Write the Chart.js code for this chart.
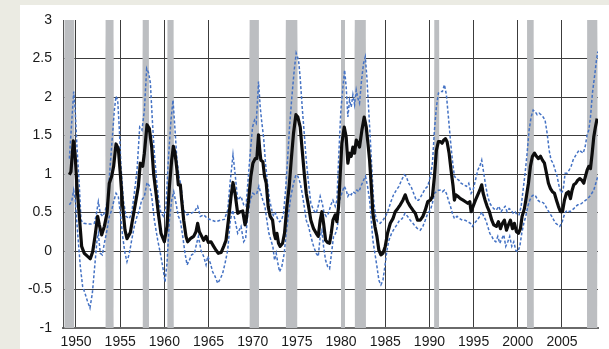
<!DOCTYPE html>
<html>
<head>
<meta charset="utf-8">
<script src="https://cdn.jsdelivr.net/npm/chart.js@4/dist/chart.umd.min.js"></script>
<style>
html,body{margin:0;padding:0;background:#ebebe3;overflow:hidden;}
#wrap{position:absolute;left:0;top:0;width:609px;height:349px;}
canvas{display:block;}
</style>
</head>
<body>
<div id="wrap"><canvas id="c" width="609" height="349"></canvas></div>
<script>
// ---- tick labels ----
const xTickYears = [1950, 1955, 1960, 1965, 1970, 1975, 1980, 1985, 1990, 1995, 2000, 2005];
const yTickValues = [-1, -0.5, 0, 0.5, 1, 1.5, 2, 2.5, 3];

// ---- recession periods (years) ----
const recessionStarts = [1948.6, 1953.25, 1957.45, 1960.25, 1969.55, 1973.65, 1979.9, 1981.45, 1990.45, 2000.95, 2007.75];
const recessionEnds   = [1949.9, 1954.35, 1958.35, 1961.15, 1970.8, 1975.15, 1980.55, 1982.9, 1991.2, 2001.9, 2009.1];

// ---- central estimate [year, value] ----
const centerLine = [
[1949.25,0.99],[1949.43,1.03],[1949.7,1.43],[1949.89,1.27],[1950.11,0.84],[1950.38,0.45],[1950.64,0.06],[1950.94,-0.03],
[1951.32,-0.07],[1951.62,-0.10],[1951.89,-0.01],[1952.15,0.19],[1952.45,0.45],[1952.64,0.34],[1952.91,0.21],[1953.21,0.32],
[1953.51,0.49],[1953.77,0.88],[1954.04,0.97],[1954.26,1.10],[1954.53,1.39],[1954.79,1.33],[1955.02,1.0],[1955.28,0.58],
[1955.55,0.27],[1955.77,0.16],[1956.15,0.24],[1956.42,0.42],[1956.79,0.66],[1957.06,0.84],[1957.28,1.14],[1957.55,1.10],
[1957.74,1.27],[1958.04,1.64],[1958.3,1.59],[1958.57,1.35],[1958.79,1.0],[1959.06,0.75],[1959.32,0.49],[1959.62,0.23],
[1960.0,0.12],[1960.3,0.32],[1960.57,0.84],[1960.83,1.18],[1961.02,1.36],[1961.21,1.27],[1961.43,1.05],[1961.58,0.86],
[1961.81,0.86],[1961.96,0.66],[1962.19,0.40],[1962.45,0.19],[1962.64,0.12],[1962.94,0.16],[1963.32,0.19],[1963.58,0.25],
[1963.77,0.36],[1963.96,0.25],[1964.23,0.19],[1964.45,0.14],[1964.72,0.19],[1964.98,0.11],[1965.28,0.12],[1965.58,0.06],
[1965.85,0.01],[1966.11,-0.03],[1966.42,-0.02],[1966.72,0.06],[1966.98,0.14],[1967.25,0.40],[1967.55,0.71],[1967.77,0.89],
[1968.0,0.75],[1968.3,0.49],[1968.6,0.51],[1968.87,0.52],[1969.13,0.34],[1969.26,0.40],
[1969.53,0.66],[1969.79,0.97],[1970.02,1.14],[1970.28,1.20],[1970.47,1.20],[1970.66,1.51],[1970.77,1.35],[1970.92,1.18],
[1971.15,1.16],[1971.34,0.97],[1971.53,0.88],[1971.75,0.58],[1971.98,0.45],[1972.25,0.40],[1972.43,0.23],[1972.58,0.16],
[1972.74,0.23],[1972.92,0.10],[1973.11,0.06],[1973.38,0.10],[1973.6,0.23],[1973.87,0.58],[1974.13,0.84],[1974.36,1.18],
[1974.62,1.53],[1974.89,1.77],[1975.11,1.74],[1975.38,1.61],[1975.6,1.31],[1975.83,1.01],[1976.06,0.75],[1976.32,0.58],
[1976.58,0.40],[1976.89,0.29],[1977.19,0.23],[1977.42,0.19],[1977.64,0.40],[1977.83,0.51],[1978.02,0.36],[1978.25,0.14],
[1978.47,0.11],[1978.7,0.10],[1978.89,0.23],[1979.08,0.40],[1979.34,0.47],[1979.53,0.38],[1979.72,0.58],[1979.91,1.01],
[1980.09,1.40],[1980.36,1.61],[1980.58,1.48],[1980.77,1.14],[1980.96,1.27],[1981.15,1.23],[1981.34,1.35],[1981.53,1.27],
[1981.72,1.44],[1981.91,1.40],[1982.09,1.35],[1982.36,1.57],[1982.62,1.74],[1982.85,1.61],[1983.04,1.40],[1983.23,1.18],
[1983.42,0.84],[1983.6,0.49],[1983.83,0.32],[1984.06,0.19],[1984.28,0.01],[1984.51,-0.05],[1984.74,-0.03],[1985.0,0.06],
[1985.26,0.23],[1985.57,0.36],[1985.87,0.42],[1986.13,0.51],[1986.4,0.55],[1986.7,0.60],[1987.0,0.66],[1987.26,0.73],
[1987.53,0.64],[1987.83,0.58],[1988.13,0.53],[1988.4,0.49],[1988.66,0.40],[1988.96,0.40],[1989.26,0.45],[1989.53,0.53],
[1989.81,0.64],[1990.11,0.66],[1990.34,0.71],[1990.57,0.97],[1990.79,1.31],[1991.02,1.42],[1991.25,1.42],[1991.43,1.40],
[1991.62,1.44],[1991.81,1.46],[1992.0,1.42],[1992.23,1.27],[1992.45,1.05],[1992.68,0.84],[1992.83,0.66],[1992.98,0.73],
[1993.21,0.71],[1993.51,0.68],[1993.81,0.66],[1994.08,0.64],[1994.34,0.62],[1994.57,0.64],[1994.72,0.51],[1994.94,0.58],
[1995.21,0.66],[1995.47,0.73],[1995.7,0.79],[1995.92,0.86],[1996.08,0.75],[1996.3,0.66],[1996.53,0.58],[1996.79,0.51],
[1997.06,0.40],[1997.28,0.34],[1997.58,0.32],[1997.81,0.38],[1998.04,0.29],[1998.26,0.36],[1998.49,0.40],[1998.72,0.27],
[1998.94,0.34],[1999.17,0.40],[1999.4,0.29],[1999.62,0.36],[1999.85,0.25],[2000.08,0.23],[2000.3,0.29],[2000.49,0.45],
[2000.75,0.55],[2000.98,0.71],[2001.21,0.88],[2001.43,1.10],[2001.66,1.23],[2001.89,1.27],[2002.11,1.23],[2002.34,1.20],
[2002.57,1.23],[2002.79,1.18],[2003.02,1.14],[2003.25,1.01],[2003.47,0.88],[2003.7,0.81],[2003.92,0.77],[2004.15,0.75],
[2004.38,0.66],[2004.6,0.58],[2004.83,0.51],[2005.06,0.51],[2005.28,0.66],[2005.51,0.75],[2005.74,0.77],[2005.96,0.68],
[2006.15,0.79],[2006.34,0.86],[2006.57,0.88],[2006.79,0.92],[2007.02,0.94],[2007.25,0.92],[2007.47,0.88],[2007.66,0.97],
[2007.85,1.05],[2008.04,1.10],[2008.23,1.07],[2008.42,1.27],[2008.6,1.48],[2008.79,1.61],[2008.98,1.72]
];

// ---- upper band [year, value] ----
const upperBand = [
[1949.25,1.20],[1949.74,2.07],[1949.89,1.87],[1950.11,1.35],[1950.38,0.84],[1950.57,0.40],[1950.87,0.36],[1951.32,0.35],
[1951.7,0.35],[1952.08,0.36],[1952.26,0.45],[1952.53,0.64],[1952.75,0.49],[1953.02,0.45],[1953.28,0.51],[1953.58,0.66],
[1953.89,1.14],[1954.15,1.53],[1954.34,1.83],[1954.53,2.01],[1954.72,1.96],[1954.91,1.57],[1955.09,1.10],[1955.36,0.66],
[1955.66,0.45],[1956.04,0.42],[1956.3,0.49],[1956.6,0.75],[1956.91,1.05],[1957.21,1.61],[1957.47,1.57],[1957.74,1.83],
[1958.0,2.37],[1958.23,2.31],[1958.42,2.18],[1958.64,1.70],[1958.87,1.27],[1959.13,0.92],[1959.36,0.66],[1959.62,0.49],
[1959.92,0.45],[1960.19,0.58],[1960.45,1.18],[1960.75,1.70],[1960.98,1.96],[1961.21,1.57],[1961.43,1.18],[1961.66,0.97],
[1961.89,0.84],[1962.19,0.53],[1962.57,0.47],[1963.02,0.49],[1963.4,0.51],[1963.77,0.58],[1964.08,0.45],[1964.45,0.47],
[1964.91,0.42],[1965.36,0.40],[1965.85,0.38],[1966.34,0.40],[1966.79,0.41],[1967.17,0.53],[1967.47,0.92],[1967.77,1.25],
[1968.0,1.01],[1968.3,0.66],[1968.68,0.71],[1968.98,0.60],[1969.25,0.58],
[1969.42,0.84],[1969.72,1.27],[1969.98,1.61],[1970.21,1.70],[1970.4,1.66],[1970.66,2.20],[1970.85,1.87],[1971.04,1.66],
[1971.23,1.48],[1971.45,1.14],[1971.68,0.88],[1971.91,0.66],[1972.17,0.53],[1972.36,0.45],[1972.58,0.49],[1972.81,0.42],
[1973.04,0.38],[1973.26,0.40],[1973.49,0.49],[1973.72,0.79],[1973.94,1.18],[1974.17,1.61],[1974.43,2.00],[1974.7,2.35],
[1974.92,2.57],[1975.19,2.48],[1975.38,2.24],[1975.6,1.87],[1975.83,1.53],[1976.06,1.18],[1976.32,0.88],[1976.58,0.62],
[1976.89,0.53],[1977.19,0.49],[1977.45,0.60],[1977.64,0.71],[1977.87,0.62],[1978.09,0.49],[1978.32,0.45],[1978.58,0.49],
[1978.85,0.60],[1979.08,0.66],[1979.34,0.58],[1979.53,0.66],[1979.75,1.27],[1979.98,1.83],[1980.21,2.13],[1980.4,2.35],
[1980.58,2.13],[1980.77,1.74],[1980.96,1.96],[1981.15,1.87],[1981.34,2.03],[1981.53,1.90],[1981.72,2.09],[1981.91,1.98],
[1982.09,1.92],[1982.32,2.22],[1982.55,2.44],[1982.74,2.52],[1982.92,2.26],[1983.11,1.87],[1983.3,1.48],[1983.49,1.05],
[1983.68,0.66],[1983.91,0.45],[1984.13,0.38],[1984.43,0.36],[1984.74,0.40],[1985.04,0.45],[1985.34,0.53],[1985.64,0.64],
[1985.94,0.73],[1986.25,0.79],[1986.55,0.84],[1986.85,0.92],[1987.15,0.99],[1987.38,0.97],[1987.64,0.88],[1987.91,0.84],
[1988.21,0.75],[1988.51,0.66],[1988.77,0.66],[1989.04,0.71],[1989.34,0.77],[1989.53,0.81],
[1989.81,0.84],[1990.11,0.97],[1990.34,1.14],[1990.57,1.57],[1990.79,1.87],[1991.02,2.05],[1991.25,2.07],[1991.47,2.07],
[1991.7,2.16],[1991.92,2.03],[1992.15,1.74],[1992.38,1.44],[1992.6,1.18],[1992.83,0.97],[1993.06,0.94],[1993.32,0.92],
[1993.58,0.88],[1993.89,0.86],[1994.19,0.84],[1994.45,0.88],[1994.72,0.75],[1994.94,0.79],[1995.21,0.92],[1995.47,1.05],
[1995.7,1.10],[1995.92,1.18],[1996.15,1.01],[1996.38,0.84],[1996.6,0.71],[1996.83,0.62],[1997.06,0.58],[1997.28,0.55],
[1997.58,0.53],[1997.85,0.58],[1998.11,0.51],[1998.34,0.55],[1998.57,0.58],[1998.79,0.51],[1999.02,0.55],[1999.25,0.53],
[1999.47,0.49],[1999.7,0.51],[1999.92,0.47],[2000.15,0.47],[2000.38,0.58],[2000.6,0.79],[2000.83,1.01],[2001.06,1.27],
[2001.28,1.57],[2001.51,1.74],[2001.74,1.83],[2001.96,1.81],[2002.19,1.77],[2002.42,1.79],[2002.64,1.77],[2002.87,1.74],
[2003.09,1.70],[2003.32,1.53],[2003.55,1.31],[2003.77,1.18],[2004.0,1.14],[2004.23,1.05],[2004.45,0.97],[2004.68,0.84],
[2004.91,0.75],[2005.13,0.79],[2005.36,1.01],[2005.58,1.01],[2005.81,1.05],[2006.04,1.10],[2006.26,1.18],[2006.49,1.23],
[2006.72,1.27],[2006.94,1.31],[2007.17,1.29],[2007.4,1.27],[2007.62,1.35],[2007.85,1.51],[2008.04,1.57],[2008.23,1.74],
[2008.45,2.05],[2008.68,2.26],[2008.91,2.48],[2009.06,2.59]
];

// ---- lower band [year, value] ----
const lowerBand = [
[1949.25,0.60],[1949.51,0.64],[1949.74,0.79],[1949.92,0.66],[1950.19,0.23],[1950.49,-0.20],[1950.75,-0.46],[1951.02,-0.55],
[1951.32,-0.66],[1951.58,-0.74],[1951.85,-0.55],[1952.08,-0.25],[1952.38,0.14],[1952.53,0.23],[1952.75,-0.03],[1952.98,-0.05],
[1953.21,0.10],[1953.51,0.27],[1953.77,0.45],[1954.04,0.53],[1954.26,0.64],[1954.53,0.75],[1954.79,0.71],[1955.02,0.49],
[1955.28,0.19],[1955.55,-0.03],[1955.77,-0.14],[1956.04,-0.03],[1956.3,0.14],[1956.6,0.32],[1956.91,0.45],[1957.17,0.53],
[1957.43,0.66],[1957.74,0.71],[1958.04,0.89],[1958.34,0.84],[1958.57,0.71],[1958.87,0.40],[1959.25,0.14],[1959.55,-0.03],
[1959.81,-0.20],[1960.08,-0.40],[1960.3,-0.16],[1960.57,0.40],[1960.83,0.66],[1961.06,0.77],[1961.32,0.62],[1961.58,0.45],
[1961.81,0.40],[1962.08,0.19],[1962.34,-0.03],[1962.57,-0.18],[1962.83,-0.12],[1963.09,-0.05],[1963.4,-0.03],[1963.7,0.12],
[1963.85,0.19],[1964.15,0.01],[1964.45,-0.07],[1964.72,-0.18],[1964.91,-0.07],[1965.21,-0.16],[1965.47,-0.27],[1965.74,-0.33],
[1966.04,-0.42],[1966.34,-0.36],[1966.6,-0.29],[1966.87,-0.16],[1967.17,0.01],[1967.47,0.40],[1967.74,0.53],[1968.0,0.40],
[1968.3,0.23],[1968.68,0.32],[1968.98,0.12],[1969.2,0.16],
[1969.42,0.45],[1969.72,0.66],[1970.02,0.75],[1970.28,0.73],[1970.47,0.75],[1970.7,0.84],[1970.92,0.75],[1971.15,0.66],
[1971.38,0.58],[1971.6,0.40],[1971.83,0.23],[1972.06,0.14],[1972.28,0.06],[1972.47,-0.12],[1972.66,-0.03],[1972.85,-0.16],
[1973.04,-0.27],[1973.3,-0.20],[1973.57,-0.03],[1973.79,0.23],[1974.06,0.49],[1974.32,0.71],[1974.62,0.88],[1974.89,0.99],
[1975.11,0.97],[1975.38,0.88],[1975.6,0.75],[1975.83,0.58],[1976.06,0.40],[1976.32,0.32],[1976.58,0.19],[1976.89,0.06],
[1977.19,-0.03],[1977.42,-0.07],[1977.64,0.19],[1977.83,0.27],[1978.02,0.06],[1978.25,-0.12],[1978.47,-0.20],[1978.7,-0.23],
[1978.92,-0.03],[1979.15,0.19],[1979.38,0.23],[1979.6,0.32],[1979.83,0.66],[1980.09,0.75],[1980.36,0.84],[1980.58,0.79],
[1980.77,0.71],[1980.96,0.75],[1981.15,0.73],[1981.34,0.77],[1981.6,0.75],[1981.79,0.79],[1982.02,0.77],[1982.25,0.84],
[1982.55,0.92],[1982.77,0.97],[1983.0,0.84],[1983.23,0.66],[1983.42,0.40],[1983.6,0.14],[1983.83,-0.03],[1984.06,-0.20],
[1984.28,-0.38],[1984.51,-0.44],[1984.74,-0.38],[1984.96,-0.20],[1985.19,0.01],[1985.42,0.14],[1985.72,0.23],[1986.02,0.29],
[1986.32,0.34],[1986.62,0.40],[1986.92,0.42],[1987.23,0.49],[1987.53,0.45],[1987.83,0.40],[1988.13,0.36],[1988.4,0.32],
[1988.66,0.29],[1988.96,0.27],[1989.26,0.32],[1989.53,0.40],
[1989.81,0.49],[1990.11,0.53],[1990.34,0.62],[1990.57,0.75],[1990.79,0.77],[1991.02,0.79],[1991.25,0.79],[1991.47,0.77],
[1991.7,0.79],[1991.92,0.75],[1992.15,0.66],[1992.38,0.58],[1992.6,0.49],[1992.83,0.42],[1993.13,0.45],[1993.43,0.42],
[1993.74,0.40],[1994.04,0.40],[1994.34,0.38],[1994.64,0.36],[1994.87,0.32],[1995.09,0.36],[1995.4,0.40],[1995.7,0.45],
[1995.92,0.51],[1996.15,0.45],[1996.38,0.40],[1996.6,0.32],[1996.83,0.23],[1997.06,0.19],[1997.28,0.14],[1997.51,0.12],
[1997.74,0.19],[1997.96,0.10],[1998.19,0.16],[1998.42,0.21],[1998.64,0.06],[1998.87,0.12],[1999.09,0.19],[1999.32,0.06],
[1999.55,0.12],[1999.77,0.01],[2000.0,-0.01],[2000.23,0.06],[2000.45,0.23],[2000.68,0.36],[2000.91,0.45],[2001.13,0.58],
[2001.36,0.66],[2001.58,0.71],[2001.81,0.73],[2002.04,0.71],[2002.26,0.66],[2002.49,0.64],[2002.72,0.64],[2002.94,0.62],
[2003.17,0.58],[2003.4,0.53],[2003.62,0.49],[2003.85,0.45],[2004.08,0.40],[2004.3,0.36],[2004.53,0.34],[2004.75,0.32],
[2004.98,0.36],[2005.21,0.45],[2005.43,0.51],[2005.66,0.53],[2005.89,0.51],[2006.11,0.53],[2006.34,0.55],[2006.57,0.58],
[2006.79,0.60],[2007.02,0.60],[2007.25,0.62],[2007.47,0.64],[2007.7,0.66],[2007.92,0.68],[2008.15,0.71],[2008.38,0.75],
[2008.6,0.79],[2008.83,0.88],[2009.06,0.97]
];

// ---- build datasets ----
const Y_MIN = -1, Y_MAX = 3;
const X_MIN = 1948.53, X_MAX = 2009.08;
const TAPER = 0.1;
const toXY = arr => arr.map(p => ({x: p[0], y: p[1]}));

const recessionPts = [];
recessionStarts.forEach((s, i) => {
  const e = recessionEnds[i];
  recessionPts.push({x: Math.max(s + TAPER, X_MIN), y: Y_MIN});
  recessionPts.push({x: Math.max(s, X_MIN), y: Y_MAX});
  recessionPts.push({x: e, y: Y_MAX});
  recessionPts.push({x: e - TAPER, y: Y_MIN});
  recessionPts.push({x: e + 0.01, y: null});
});

const bgPlugin = {
  id: 'bg',
  beforeDraw(chart) {
    const c = chart.ctx;
    c.save();
    c.fillStyle = '#ebebe3';
    c.fillRect(0, 0, chart.width, chart.height);
    c.fillStyle = '#ffffff';
    c.fillRect(20, 5, chart.width - 20, chart.height - 5);
    c.restore();
  }
};

const gridColor = '#3c3c3c';
const tickFont = {family: '"Liberation Sans", Arial, sans-serif', size: 14};

new Chart(document.getElementById('c'), {
  type: 'line',
  data: {
    datasets: [
      {
        label: 'center', data: toXY(centerLine), borderColor: '#0d0d0d', borderWidth: 3.2,
        pointRadius: 0, tension: 0, fill: false, order: 1, borderJoinStyle: 'round'
      },
      {
        label: 'upper', data: toXY(upperBand), borderColor: '#4472c4', borderWidth: 1.5,
        borderDash: [3, 2], pointRadius: 0, tension: 0, fill: false, order: 2
      },
      {
        label: 'lower', data: toXY(lowerBand), borderColor: '#4472c4', borderWidth: 1.5,
        borderDash: [3, 2], pointRadius: 0, tension: 0, fill: false, order: 2
      },
      {
        label: 'recession', data: recessionPts, borderWidth: 0, borderColor: 'rgba(0,0,0,0)',
        backgroundColor: '#bcbec1', pointRadius: 0, tension: 0, spanGaps: false,
        fill: {value: Y_MIN}, order: 3
      }
    ]
  },
  options: {
    responsive: false,
    animation: false,
    events: [],
    layout: {padding: {top: 20, right: 11, left: 0, bottom: 0}},
    plugins: {legend: {display: false}, tooltip: {enabled: false}},
    scales: {
      x: {
        type: 'linear', min: X_MIN, max: X_MAX,
        afterBuildTicks: s => { s.ticks = xTickYears.map(v => ({value: v})); },
        afterFit: s => { s.height = 21; },
        ticks: {
          callback: v => String(v), font: tickFont, color: '#1a1a1a',
          padding: 6, maxRotation: 0, autoSkip: false
        },
        grid: {color: gridColor, lineWidth: 1, drawTicks: false},
        border: {display: true, color: '#6a6a6a', width: 2}
      },
      y: {
        type: 'linear', min: Y_MIN, max: Y_MAX,
        afterBuildTicks: s => { s.ticks = yTickValues.map(v => ({value: v})); },
        afterFit: s => { s.width = 63; },
        ticks: {callback: v => String(v), font: tickFont, color: '#1a1a1a', padding: 11},
        grid: {
          color: ctx => (ctx.tick && (ctx.tick.value === Y_MAX || ctx.tick.value === Y_MIN)) ? 'rgba(0,0,0,0)' : gridColor,
          lineWidth: 1, drawTicks: false
        },
        border: {display: true, color: '#555555', width: 1}
      }
    }
  },
  plugins: [bgPlugin]
});
</script>
</body>
</html>
